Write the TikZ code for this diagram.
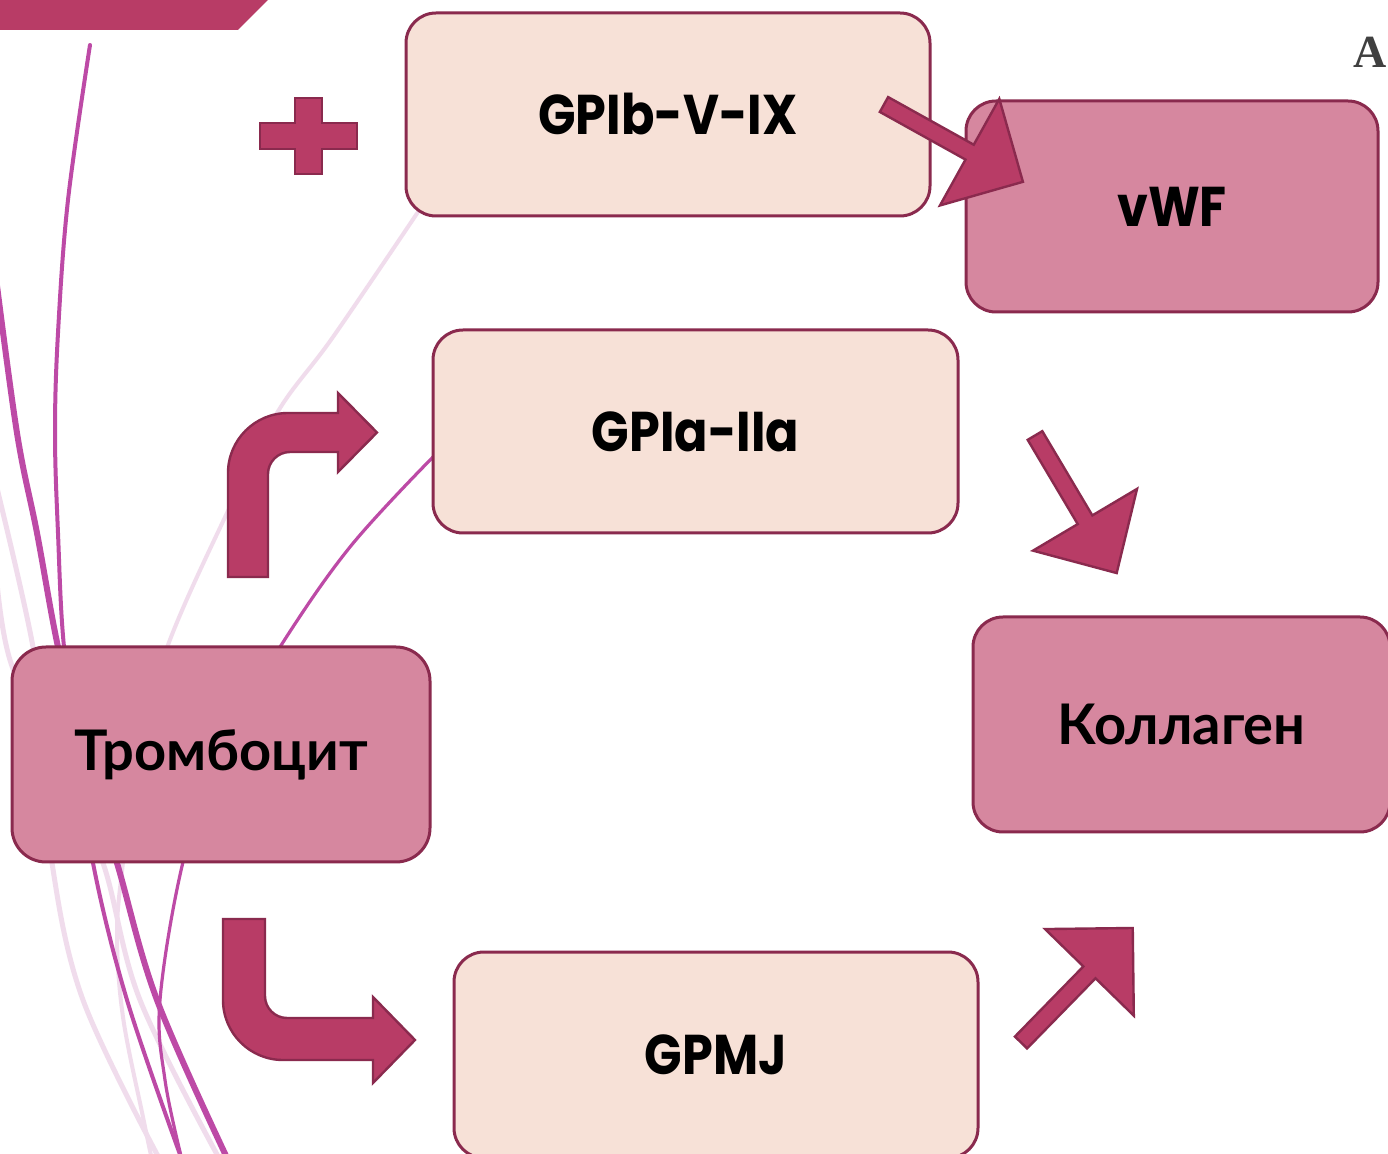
\documentclass[tikz,border=0pt]{standalone}
\usepackage{fontspec}
\setmainfont{Poppins}[FakeStretch=0.88]
\newfontfamily\cyrfont{Lato}
\newfontfamily\letterfont{Liberation Serif}
\definecolor{peach}{HTML}{F7E1D7}
\definecolor{rose}{HTML}{D6879F}
\definecolor{edgecol}{HTML}{8A2A4E}
\definecolor{arrowcol}{HTML}{B83C66}
\definecolor{wispcol}{HTML}{BD4AA6}
\definecolor{wisppale}{HTML}{F0DCEC}

% straight block arrow: tail middle (#1,#2), angle #3, length #4,
% shaft width #5, head width #6, head length #7
\newcommand\blockarrow[7]{%
  \begin{scope}[shift={(#1,#2)}, rotate=#3]
    \draw[blockarrow] (0,-#5/2) -- (#4-#7,-#5/2) -- (#4-#7,-#6/2) -- (#4,0)
      -- (#4-#7,#6/2) -- (#4-#7,#5/2) -- (0,#5/2) -- cycle;
  \end{scope}}

\begin{document}
\begin{tikzpicture}[x=0.5pt,y=-0.5pt,
  box/.style={draw=edgecol, line width=1.5pt, rounded corners=15pt, inner sep=0pt,
    font=\fontsize{28}{32}\selectfont\bfseries, text=black},
  lightbox/.style={box, fill=peach},
  darkbox/.style={box, fill=rose},
  blockarrow/.style={fill=arrowcol, draw=edgecol, line width=1.2pt, line join=miter},
  wisp/.style={draw=wispcol, line cap=round},
  wisplight/.style={draw=wisppale, line cap=round}]

\clip (0,0) rectangle (1388,1154);
\fill[white] (0,0) rectangle (1388,1154);

% background wisps
\draw[wisplight, line width=2.5pt] plot[smooth, tension=0.6] coordinates
  {(-5,480) (33,647) (45,760) (52,863) (83,1000) (160,1160)};
\draw[wisplight, line width=2.5pt] plot[smooth, tension=0.6] coordinates
  {(-5,560) (10,660) (60,770) (103,863) (140,1000) (220,1160)};
\draw[wisplight, line width=2pt] plot[smooth, tension=0.6] coordinates
  {(418,212) (333,337) (277,413) (227,513) (168,645) (135,760) (123,862) (117,933) (123,1017) (143,1117) (152,1160)};
\draw[wisp, line width=2pt] plot[smooth, tension=0.6] coordinates
  {(90,45) (68,200) (58,333) (55,433) (58,533) (64,647) (80,760) (93,863) (127,1000) (182,1160)};
\draw[wisp, line width=3pt] plot[smooth, tension=0.6] coordinates
  {(-5,270) (17,433) (37,533) (58,647) (85,760) (117,863) (157,1000) (228,1160)};
\draw[wisp, line width=1.6pt] plot[smooth, tension=0.6] coordinates
  {(433,457) (350,547) (280,647) (220,750) (183,862) (160,1000) (165,1080) (182,1160)};

% banner strip
\fill[arrowcol] (0,-5) -- (273,-5) -- (238,30) -- (0,30) -- cycle;

% letter at the right edge
\node[anchor=north east, inner sep=0pt, text=black!75,
  font=\letterfont\bfseries\fontsize{23}{23}\selectfont] (edgeletter) at (1387,37) {A};

% boxes
\node[lightbox, minimum width=262pt, minimum height=101.5pt] (gpib) at (668,114.5) {GPIb-V-IX};
\node[darkbox, minimum width=206pt, minimum height=105.5pt] (vwf) at (1172,206.5) {vWF};
\node[lightbox, minimum width=262.5pt, minimum height=101.5pt] (gpia) at (695.5,431.5) {GPIa-IIa};
\node[darkbox, minimum width=208.5pt, minimum height=107.5pt] (koll) at (1181.5,724.5) {\cyrfont\bfseries Коллаген};
\node[lightbox, minimum width=262pt, minimum height=103pt] (gpmj) at (716,1055) {GPMJ};
\node[darkbox, rounded corners=17pt, minimum width=209pt, minimum height=107.5pt] (tromb) at (221,754.5) {\cyrfont\bfseries Тромбоцит};

% plus sign
\draw[blockarrow] (295,98) -- (322,98) -- (322,123) -- (357,123) -- (357,149) -- (322,149)
  -- (322,174) -- (295,174) -- (295,149) -- (260,149) -- (260,123) -- (295,123) -- cycle;

% straight arrows
\blockarrow{884}{104.5}{-29.1}{159}{17}{122}{61}
\blockarrow{1035}{435.5}{-59.3}{160}{17}{121}{62}
\blockarrow{1021}{1042.5}{45.7}{160}{17}{124}{62}

% bent arrows
\draw[blockarrow] (228,577) -- (228,473) .. controls (228,439.9) and (254.9,413) .. (288,413)
  -- (338,413) -- (338,393) -- (377,432.5) -- (338,472) -- (338,452) -- (290,452)
  .. controls (277.9,452) and (268,461.9) .. (268,474) -- (268,577) -- cycle;
\draw[blockarrow] (223,919) -- (223,1000) .. controls (223,1033.1) and (249.9,1060) .. (283,1060)
  -- (373,1060) -- (373,1083) -- (415,1040) -- (373,997) -- (373,1018) -- (287,1018)
  .. controls (274.9,1018) and (265,1008.1) .. (265,996) -- (265,919) -- cycle;
\end{tikzpicture}
\end{document}
